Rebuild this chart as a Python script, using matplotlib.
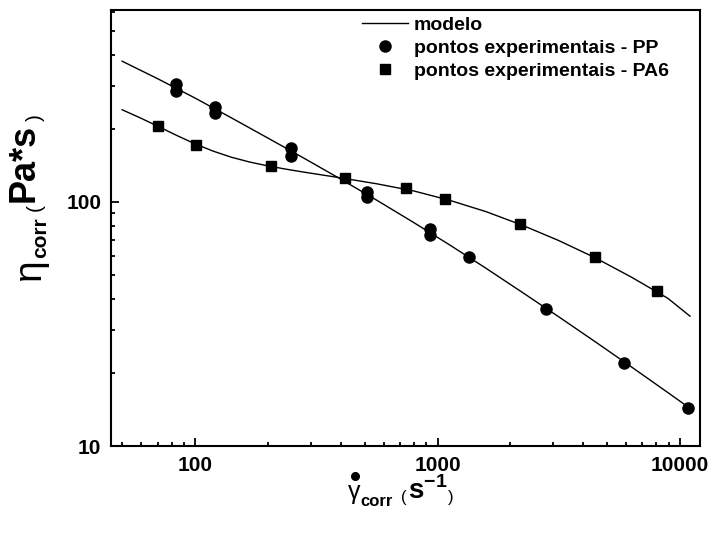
import matplotlib
matplotlib.use("Agg")
import matplotlib.pyplot as plt
from matplotlib.lines import Line2D

plt.rcParams['font.family'] = ['Liberation Sans', 'DejaVu Sans']
plt.rcParams['mathtext.fontset'] = 'custom'
plt.rcParams['mathtext.rm'] = 'Liberation Sans'
plt.rcParams['mathtext.bf'] = 'Liberation Sans:bold'

# Experimental points: shear rate (1/s) and corrected viscosity (Pa*s)
pp_rate = [83.5, 83.5, 121, 121, 248, 248, 514, 514, 927, 927, 1345, 2809, 5883, 10758]
pp_visc = [304, 286, 246, 232, 167, 154, 110, 104.5, 77.5, 73.2, 59.5, 36.4, 21.9, 14.3]

pa6_rate = [70.2, 101, 205, 417, 738, 1069, 2182, 4469, 8017]
pa6_visc = [205, 172, 141, 125, 114.4, 103.2, 81.5, 59.7, 43.3]

# Model curves
pp_model_rate = [50, 70.8, 100, 141.3, 199.5, 281.8, 398.1, 562.3, 794.3, 1122,
                 1585, 2239, 3162, 4467, 6310, 8913, 11000]
pp_model_visc = [377.6, 318.4, 266.6, 221.1, 182.9, 151.0, 124.2, 101.6, 82.6, 66.7,
                 53.5, 42.6, 33.85, 26.77, 21.09, 16.56, 14.27]

pa6_model_rate = [50, 59.6, 70.8, 84.1, 100, 118.9, 141.3, 167.9, 199.5, 237.1, 281.8,
                  398.1, 562.3, 794.3, 1122, 1585, 2239, 3162, 4467, 6310, 8913, 11000]
pa6_model_visc = [238.8, 220.8, 203.5, 187.3, 173.0, 161.5, 152.5, 145.8, 140.6, 136.3, 132.5,
                  125.6, 118.7, 111.1, 101.6, 91.3, 80.3, 69.5, 59.1, 49.2, 40.3, 34.05]

x_ticks = [100, 1000, 10000]
y_ticks = [10, 100]

W, H = 710, 536
fig = plt.figure(figsize=(W / 100, H / 100), dpi=100)
ax = fig.add_axes([111 / W, 1 - 446 / H, (700 - 111) / W, (446 - 10) / H])

ax.plot(pp_model_rate, pp_model_visc, color='black', lw=1.0)
ax.plot(pa6_model_rate, pa6_model_visc, color='black', lw=1.0)
ax.plot(pp_rate, pp_visc, 'o', color='black', ms=8, ls='none')
ax.plot(pa6_rate, pa6_visc, 's', color='black', ms=7.5, ls='none')

ax.set_xscale('log')
ax.set_yscale('log')
ax.set_xlim(45, 12100)
ax.set_ylim(10, 612)

ax.set_xticks(x_ticks)
ax.set_xticklabels([str(v) for v in x_ticks])
ax.set_yticks(y_ticks)
ax.set_yticklabels([str(v) for v in y_ticks])

for s in ax.spines.values():
    s.set_linewidth(1.5)
ax.tick_params(which='both', direction='in', top=False, right=False, width=1.3)
ax.tick_params(which='major', length=6, labelsize=15, pad=7)
ax.tick_params(which='minor', length=3)
for lbl in ax.get_xticklabels() + ax.get_yticklabels():
    lbl.set_fontweight('bold')

handles = [
    Line2D([], [], color='black', lw=1.0),
    Line2D([], [], marker='o', color='black', ms=8, ls='none'),
    Line2D([], [], marker='s', color='black', ms=7.5, ls='none'),
]
labels = ['modelo', 'pontos experimentais - PP', 'pontos experimentais - PA6']
ax.legend(handles, labels, loc='upper left', bbox_to_anchor=((350 - 111) / 589, 1.012),
          frameon=False, handlelength=2.37, handletextpad=0.3, labelspacing=0.28,
          borderaxespad=0.2, prop={'weight': 'bold', 'size': 14})


def rich_label(pieces, center, vertical=False):
    """Lay out mixed-size text pieces along a baseline centred on `center` (pixels from top-left).
    Each piece: (text, size, weight, shift_up_px, gap_before_px)."""
    renderer = fig.canvas.get_renderer()
    widths = []
    for txt, size, weight, shift, gap in pieces:
        t = fig.text(0, 0, txt, fontsize=size, fontweight=weight)
        widths.append(t.get_window_extent(renderer=renderer).width)
        t.remove()
    total = sum(widths) + sum(p[4] for p in pieces)
    cx, cy = center[0], H - center[1]
    pos = -total / 2
    placed = []
    for (txt, size, weight, shift, gap), w in zip(pieces, widths):
        pos += gap
        if vertical:
            px, py = cx - shift, cy + pos
            fig.text(px / W, py / H, txt, fontsize=size, fontweight=weight, rotation=90,
                     rotation_mode='anchor', ha='left', va='baseline')
        else:
            px, py = cx + pos, cy + shift
            fig.text(px / W, py / H, txt, fontsize=size, fontweight=weight,
                     ha='left', va='baseline')
        placed.append((px, py, w))
        pos += w
    return placed


# x axis title: shear rate (gamma with a dot accent)
xl = rich_label([
    ('γ', 18, 'normal', 0, 0),
    ('corr', 12, 'bold', -7, 0),
    ('(', 12, 'normal', -3, 8),
    (r'$\mathbf{s}^{\mathbf{-1}}$', 20, 'bold', 0, 1),
    (')', 12, 'normal', -3, 1),
], center=(401, 499))
gx, gy, gw = xl[0]
fig.add_artist(Line2D([(gx + gw / 2 + 0.5) / W], [(gy + 23) / H], marker='o', ms=5.5,
                      color='black', ls='none', transform=fig.transFigure))

# y axis title: corrected viscosity
rich_label([
    ('η', 28, 'normal', -6, 0),
    ('corr', 15, 'bold', -12, 0),
    ('(', 15, 'normal', -7, 6),
    ('Pa*s', 26, 'bold', 0, 2),
    (')', 15, 'normal', -7, 3),
], center=(34, 197), vertical=True)

fig.savefig('out.png', dpi=100)
